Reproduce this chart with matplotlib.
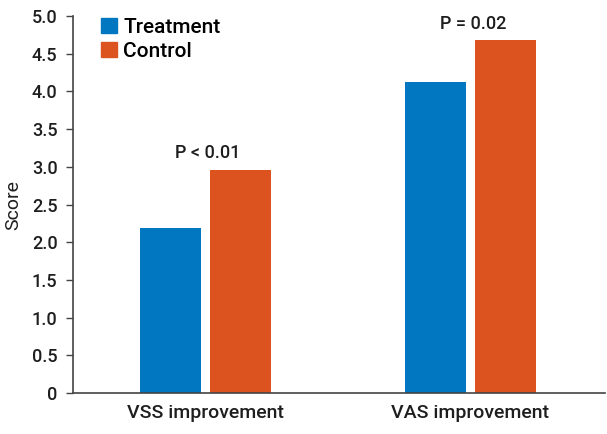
import numpy as np
import matplotlib.pyplot as plt
from matplotlib.patches import Patch

plt.rcParams['font.family'] = ['Roboto', 'DejaVu Sans']
plt.rcParams['font.weight'] = 'medium'

categories = ["VSS improvement", "VAS improvement"]
treatment = [2.19, 4.12]
control = [2.96, 4.68]
p_labels = ["P < 0.01", "P = 0.02"]

blue = '#0077c0'
orange = '#dc531f'
txt = '#1e1e1e'

fig = plt.figure(figsize=(6.07, 4.34), dpi=100)
ax = fig.add_axes([0.120, 0.0945, 0.877, 0.8685])

x = np.arange(len(categories))
w = 0.23
off = 0.132
ax.bar(x - off, treatment, w, color=blue)
ax.bar(x + off, control, w, color=orange)

for xi, c, p in zip(x, control, p_labels):
    ax.text(xi + 0.01, c + 0.1, p, ha='center', va='bottom', fontsize=13, color=txt)

ax.set_xlim(-0.501, 1.51)
ax.set_ylim(0, 5.0)
ax.set_yticks(np.arange(0, 5.01, 0.5))
ax.set_yticklabels(['0'] + [f'{v:.1f}' for v in np.arange(0.5, 5.01, 0.5)])
ax.set_xticks(x)
ax.set_xticklabels(categories)
ax.tick_params(axis='x', length=0, labelsize=14, pad=8, colors=txt)
ax.tick_params(axis='y', length=5, width=1, labelsize=13, pad=6, colors='#444444', labelcolor=txt)
ax.set_ylabel('Score', fontsize=14, color=txt, labelpad=7)

for s in ['top', 'right']:
    ax.spines[s].set_visible(False)
for s in ['left', 'bottom']:
    ax.spines[s].set_color('#444444')
    ax.spines[s].set_linewidth(1.2)

handles = [Patch(color=blue, label='Treatment'), Patch(color=orange, label='Control')]
ax.legend(handles=handles, loc='upper left', bbox_to_anchor=(0.018, 1.045), frameon=False,
          prop={'size': 15}, handlelength=0.75, handleheight=0.75, handletextpad=0.3,
          labelspacing=0.25)

fig.savefig('out.png', dpi=100)
